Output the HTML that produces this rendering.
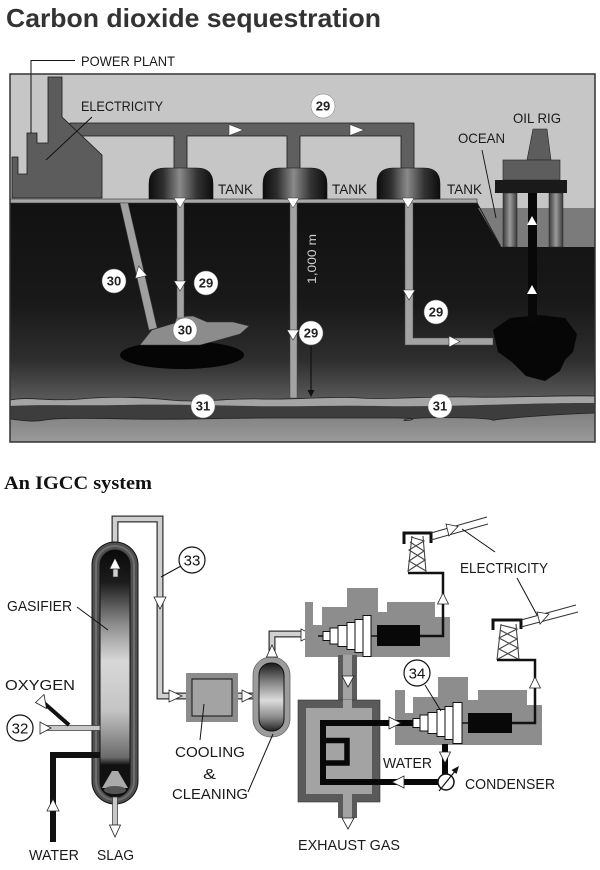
<!DOCTYPE html>
<html><head><meta charset="utf-8"><style>
html,body{margin:0;padding:0;background:#fff;}
svg{display:block;}
text{font-family:"Liberation Sans",sans-serif;}
</style></head><body>
<svg width="600" height="870" viewBox="0 0 600 870" xmlns="http://www.w3.org/2000/svg">
<defs>
<linearGradient id="ground" x1="0" y1="0" x2="0" y2="1">
<stop offset="0" stop-color="#111"/><stop offset="0.5" stop-color="#191919"/><stop offset="0.78" stop-color="#2e2e2e"/><stop offset="1" stop-color="#606060"/>
</linearGradient>
<linearGradient id="tankG" x1="0" y1="0" x2="1" y2="0">
<stop offset="0" stop-color="#0d0d0d"/><stop offset="0.22" stop-color="#2e2e2e"/><stop offset="0.48" stop-color="#8a8a8a"/><stop offset="0.75" stop-color="#333"/><stop offset="1" stop-color="#0d0d0d"/>
</linearGradient>
<linearGradient id="legG" x1="0" y1="0" x2="1" y2="0">
<stop offset="0" stop-color="#3a3a3a"/><stop offset="0.5" stop-color="#9a9a9a"/><stop offset="1" stop-color="#3a3a3a"/>
</linearGradient>
<linearGradient id="gasIn" x1="0" y1="0" x2="0" y2="1">
<stop offset="0" stop-color="#0a0a0a"/><stop offset="0.13" stop-color="#1c1c1c"/><stop offset="0.3" stop-color="#8c8c8c"/><stop offset="0.45" stop-color="#d8d8d8"/><stop offset="0.65" stop-color="#c4c4c4"/><stop offset="0.84" stop-color="#6a6a6a"/><stop offset="0.87" stop-color="#111"/><stop offset="1" stop-color="#111"/>
</linearGradient>
<linearGradient id="vesIn" x1="0" y1="0" x2="0" y2="1">
<stop offset="0" stop-color="#1a1a1a"/><stop offset="0.3" stop-color="#8a8a8a"/><stop offset="0.55" stop-color="#dcdcdc"/><stop offset="0.8" stop-color="#8a8a8a"/><stop offset="1" stop-color="#222"/>
</linearGradient>
<linearGradient id="bot" x1="0" y1="0" x2="0" y2="1">
<stop offset="0" stop-color="#808080"/><stop offset="1" stop-color="#9a9a9a"/>
</linearGradient>
</defs>

<!-- TITLE -->
<text x="6" y="27" font-weight="bold" font-size="26" fill="#333" textLength="375" lengthAdjust="spacingAndGlyphs">Carbon dioxide sequestration</text>

<!-- TOP BOX -->
<rect x="10" y="74" width="585" height="368" fill="#c6c6c6"/>
<!-- ground -->
<path d="M10,202 H477 L501,247 H595 V405 H10 Z" fill="url(#ground)"/>
<path d="M478,208 H595 V247 H501 Z" fill="#7b7b7b"/>
<line x1="476" y1="201" x2="501" y2="247" stroke="#222" stroke-width="1"/>
<rect x="10" y="199" width="467" height="4" fill="#a9a9a9" stroke="#333" stroke-width="0.6"/>

<!-- layer 31 -->
<path d="M10,400 C30,396 50,402 80,399 S140,397 170,400 S230,398 260,399 S330,396 360,398 S430,396 470,397 S560,395 595,396 V442 H10 Z" fill="#a4a4a4"/>
<path d="M10,400 C30,396 50,402 80,399 S140,397 170,400 S230,398 260,399 S330,396 360,398 S430,396 470,397 S560,395 595,396" fill="none" stroke="#222" stroke-width="0.8"/>
<path d="M10,406 C40,404 80,406 120,405 S200,405 250,406 S330,405 380,406 S480,405 520,404 S580,403 595,403 V442 H10 Z" fill="#3d3d3d"/>
<path d="M10,419 C25,421 35,422 45,420 S90,418 130,419 S220,418 270,418 S360,418 395,418 S402,422 404,420 S440,417 470,418 S490,421 495,420 S540,415 595,413 V442 H10 Z" fill="url(#bot)"/>
<path d="M10,419 C25,421 35,422 45,420 S90,418 130,419 S220,418 270,418 S360,418 395,418 S402,422 404,420 S440,417 470,418 S490,421 495,420 S540,415 595,413" fill="none" stroke="#222" stroke-width="0.8"/>

<!-- reservoir 1 -->
<ellipse cx="182" cy="355" rx="62" ry="14" fill="#050505"/>
<path d="M140,345 L152,330 L175,323 L177,317 L193,316 L207,322 L233,322 L249,326 L240,334 L215,341 L200,345 Z" fill="#8c8c8c" stroke="#333" stroke-width="0.5"/>

<!-- reservoir right -->
<path d="M493,330 L510,318 L540,315 L565,318 L577,334 L573,352 L565,360 L560,371 L545,381 L526,376 L512,362 L498,352 Z" fill="#060606"/>

<!-- underground pipes -->
<polygon points="120,203 128,203 157,328 149,330" fill="#a0a0a0" stroke="#444" stroke-width="0.5"/>
<rect x="177" y="203" width="7" height="115" fill="#a3a3a3" stroke="#444" stroke-width="0.5"/>
<rect x="290" y="203" width="7" height="195" fill="#a3a3a3" stroke="#444" stroke-width="0.5"/>
<path d="M405,203 V345 H493 V338 H413 V203 Z" fill="#a3a3a3" stroke="#444" stroke-width="0.5"/>

<!-- arrows in ground -->
<polygon points="138.6,266 147,275.5 135.2,278.3" fill="#fff" stroke="#333" stroke-width="0.6"/>
<polygon points="174,281 186,281 180,291" fill="#fff" stroke="#333" stroke-width="0.6"/>
<polygon points="287,330 299,330 293,340" fill="#fff" stroke="#333" stroke-width="0.6"/>
<polygon points="403,290 415,290 409,300" fill="#fff" stroke="#333" stroke-width="0.6"/>
<polygon points="449,336 449,347 460,341.5" fill="#fff" stroke="#333" stroke-width="0.6"/>

<!-- 1000 m -->
<text transform="translate(316,284) rotate(-90)" font-size="12" fill="#cfcfcf" textLength="50" lengthAdjust="spacingAndGlyphs">1,000 m</text>
<line x1="311" y1="346" x2="311" y2="391" stroke="#111" stroke-width="1.2"/>
<polygon points="307.5,390 314.5,390 311,397" fill="#111"/>

<!-- power plant pipes -->
<path d="M70,123 H414 V170 H401 V136 H300 V170 H287 V136 H187 V170 H174 V136 H70 Z" fill="#5f5f5f" stroke="#1a1a1a" stroke-width="0.8"/>
<polygon points="229,124.5 229,135.5 243,130" fill="#fff" stroke="#333" stroke-width="0.5"/>
<polygon points="350,124.5 350,135.5 364,130" fill="#fff" stroke="#333" stroke-width="0.5"/>

<!-- power plant -->
<polygon points="12,198 12,157 18,157 18,174 27,174 27,133 37,133 37,143 48,143 48,77 62,77 62,117 102,155 102,198" fill="#5c5c5c" stroke="#1a1a1a" stroke-width="0.8"/>
<polyline points="75,60.5 31,60.5 31,133" fill="none" stroke="#111" stroke-width="1"/>
<line x1="92" y1="117" x2="46" y2="160" stroke="#111" stroke-width="1"/>

<!-- tanks -->
<path d="M149,199 V184 Q149,168 165,168 H197 Q213,168 213,184 V199 Z" fill="url(#tankG)" stroke="#111" stroke-width="0.6"/>
<path d="M263,199 V184 Q263,168 279,168 H311 Q327,168 327,184 V199 Z" fill="url(#tankG)" stroke="#111" stroke-width="0.6"/>
<path d="M377,199 V184 Q377,168 393,168 H424 Q440,168 440,184 V199 Z" fill="url(#tankG)" stroke="#111" stroke-width="0.6"/>
<polygon points="174,198 186,198 180,208" fill="#fff" stroke="#333" stroke-width="0.5"/>
<polygon points="287,198 299,198 293,208" fill="#fff" stroke="#333" stroke-width="0.5"/>
<polygon points="402,198 414,198 408,208" fill="#fff" stroke="#333" stroke-width="0.5"/>

<!-- oil rig -->
<polygon points="533,129 547,129 551,160 527,160" fill="#5d5d5d" stroke="#222" stroke-width="0.6"/>
<rect x="503" y="160" width="57" height="20" fill="#5d5d5d" stroke="#222" stroke-width="0.6"/>
<rect x="503" y="193" width="14" height="54" fill="url(#legG)" stroke="#222" stroke-width="0.5"/>
<rect x="549" y="193" width="14" height="54" fill="url(#legG)" stroke="#222" stroke-width="0.5"/>
<rect x="528" y="193" width="9" height="128" fill="#080808"/>
<rect x="495" y="180" width="72" height="13" fill="#1a1a1a"/>
<polygon points="527,225 537,225 532,216" fill="#fff"/>
<polygon points="527,294 537,294 532,285" fill="#fff"/>
<line x1="482" y1="150" x2="496" y2="218" stroke="#111" stroke-width="0.9"/>

<rect x="10" y="74" width="585" height="368" fill="none" stroke="#333" stroke-width="1.5"/>

<!-- top labels -->
<g font-size="14" fill="#1a1a1a">
<text x="81" y="66" textLength="94" lengthAdjust="spacingAndGlyphs">POWER PLANT</text>
<text x="81" y="111" textLength="82" lengthAdjust="spacingAndGlyphs">ELECTRICITY</text>
<text x="218" y="194" textLength="35" lengthAdjust="spacingAndGlyphs">TANK</text>
<text x="332" y="194" textLength="35" lengthAdjust="spacingAndGlyphs">TANK</text>
<text x="447" y="194" textLength="35" lengthAdjust="spacingAndGlyphs">TANK</text>
<text x="458" y="143" textLength="47" lengthAdjust="spacingAndGlyphs">OCEAN</text>
<text x="513" y="123" textLength="48" lengthAdjust="spacingAndGlyphs">OIL RIG</text>
</g>

<!-- top circles -->
<g font-size="13" font-weight="bold" fill="#222" text-anchor="middle">
<circle cx="323" cy="106" r="12" fill="#fff" stroke="#777" stroke-width="0.5"/><text x="323" y="110.5">29</text>
<circle cx="114" cy="281" r="12" fill="#fff" stroke="#777" stroke-width="0.5"/><text x="114" y="285.5">30</text>
<circle cx="206" cy="283" r="12" fill="#fff" stroke="#777" stroke-width="0.5"/><text x="206" y="287.5">29</text>
<circle cx="185" cy="330" r="12" fill="#fff" stroke="#777" stroke-width="0.5"/><text x="185" y="334.5">30</text>
<circle cx="311" cy="333" r="12" fill="#fff" stroke="#777" stroke-width="0.5"/><text x="311" y="337.5">29</text>
<circle cx="436" cy="312" r="12" fill="#fff" stroke="#777" stroke-width="0.5"/><text x="436" y="316.5">29</text>
<circle cx="203" cy="406" r="12" fill="#fff" stroke="#777" stroke-width="0.5"/><text x="203" y="410.5">31</text>
<circle cx="440" cy="406" r="12" fill="#fff" stroke="#777" stroke-width="0.5"/><text x="440" y="410.5">31</text>
</g>

<!-- ===== IGCC ===== -->
<text x="4" y="489" font-family="Liberation Serif, serif" font-weight="bold" font-size="19" fill="#111" textLength="148" lengthAdjust="spacingAndGlyphs" style="font-family:'Liberation Serif',serif">An IGCC system</text>

<!-- pipe 33 -->
<path d="M115,574 V519 H160 V696 H188" fill="none" stroke="#333" stroke-width="7"/>
<path d="M115,574 V519 H160 V696 H188" fill="none" stroke="#d0d0d0" stroke-width="4.5"/>

<!-- gasifier -->
<rect x="92" y="542" width="46" height="262" rx="23" fill="#4f4f4f" stroke="#111" stroke-width="1"/>
<rect x="96" y="546" width="38" height="254" rx="19" fill="none" stroke="#6e6e6e" stroke-width="2"/>
<rect x="100" y="550" width="30" height="247" rx="15" fill="url(#gasIn)" stroke="#111" stroke-width="1"/>
<rect x="113" y="565" width="5" height="12" fill="#d0d0d0" stroke="#333" stroke-width="0.6"/>
<polygon points="109.5,569 120.5,569 115,558" fill="#fff" stroke="#222" stroke-width="0.7"/>
<polygon points="112,771 118,771 128,788 102,788" fill="#aaa"/>
<ellipse cx="115" cy="790" rx="11" ry="4" fill="#555"/>

<!-- slag -->
<rect x="112.5" y="797" width="5" height="28" fill="#c8c8c8" stroke="#333" stroke-width="0.7"/>
<polygon points="109.5,825 120.5,825 115,837" fill="#fff" stroke="#222" stroke-width="0.8"/>

<!-- oxygen 32 -->
<rect x="46" y="725.5" width="54" height="5" fill="#c8c8c8" stroke="#333" stroke-width="0.7"/>
<polygon points="40,722 40,734 51,728" fill="#fff" stroke="#222" stroke-width="0.8"/>
<line x1="44" y1="703" x2="69" y2="725" stroke="#111" stroke-width="4"/>
<polygon points="35.5,702.5 44,694.5 46.5,708.5" fill="#fff" stroke="#222" stroke-width="0.8"/>
<circle cx="20" cy="728" r="13" fill="#fff" stroke="#111" stroke-width="1.2"/>
<text x="20" y="733.5" font-size="15" text-anchor="middle" fill="#111">32</text>

<!-- water in -->
<path d="M53,842 V755 H100" fill="none" stroke="#111" stroke-width="6"/>
<polygon points="47,811 59,811 53,799" fill="#fff" stroke="#222" stroke-width="0.8"/>

<!-- 33 label -->
<line x1="161" y1="577" x2="181" y2="566" stroke="#111" stroke-width="1"/>
<circle cx="192" cy="560" r="13" fill="#fff" stroke="#111" stroke-width="1.2"/>
<text x="192" y="565.5" font-size="15" text-anchor="middle" fill="#111">33</text>
<polygon points="154,597 166,597 160,609" fill="#fff" stroke="#222" stroke-width="0.8"/>
<line x1="77" y1="607" x2="108" y2="630" stroke="#111" stroke-width="1"/>

<!-- cooling box -->
<rect x="186" y="673" width="52" height="49" fill="#8c8c8c"/>
<rect x="192" y="679" width="40" height="37" fill="#a3a3a3" stroke="#111" stroke-width="1"/>
<polygon points="169,690 169,702 182,696" fill="#fff" stroke="#222" stroke-width="0.8"/>
<path d="M238,696 H256" stroke="#333" stroke-width="7"/>
<path d="M238,696 H256" stroke="#d0d0d0" stroke-width="4.5"/>
<polygon points="242,690 242,702 254,696" fill="#fff" stroke="#222" stroke-width="0.8"/>
<line x1="204" y1="704" x2="200" y2="740" stroke="#111" stroke-width="1"/>

<!-- vessel -->
<path d="M272,664 V634 H322" fill="none" stroke="#333" stroke-width="7"/>
<path d="M272,664 V634 H322" fill="none" stroke="#d0d0d0" stroke-width="4.5"/>
<rect x="253" y="657" width="37" height="80" rx="18" fill="#9c9c9c" stroke="#666" stroke-width="0.8"/>
<rect x="259" y="663" width="25" height="68" rx="12" fill="url(#vesIn)" stroke="#111" stroke-width="1"/>
<polygon points="266.5,657 277.5,657 272,645" fill="#fff" stroke="#222" stroke-width="0.8"/>
<polygon points="301,629 301,641 313,635" fill="#fff" stroke="#222" stroke-width="0.8"/>
<line x1="248" y1="792" x2="273" y2="734" stroke="#111" stroke-width="1"/>

<!-- turbine 1 -->
<polygon points="305,602 313,602 313,625 322,625 322,607 347,607 347,588 378,588 378,612 387,612 387,602 435,602 435,617 450,617 450,657 305,657" fill="#8d8d8d"/>
<line x1="318" y1="636" x2="380" y2="636" stroke="#111" stroke-width="1.5"/>
<g fill="#fff" stroke="#111" stroke-width="1">
<rect x="323" y="631.5" width="7" height="9"/>
<rect x="330" y="628" width="8" height="16"/>
<rect x="338" y="625.5" width="9" height="21"/>
<rect x="347" y="622.5" width="8" height="27"/>
<rect x="355" y="619.5" width="8" height="33"/>
<rect x="363" y="615.5" width="8" height="41"/>
</g>
<rect x="377" y="625" width="43" height="21" fill="#080808"/>
<path d="M420,636 H443 V573 H408" fill="none" stroke="#111" stroke-width="2.5"/>
<polygon points="437.5,604 448.5,604 443,593" fill="#fff" stroke="#222" stroke-width="0.8"/>

<!-- tower 1 -->
<g stroke="#444" stroke-width="1.1" fill="none">
<line x1="408" y1="572" x2="412" y2="536"/><line x1="426" y1="572" x2="423" y2="536"/>
<polyline points="408,571 425,560 409,550 424,541 411,537"/>
<polyline points="426,571 409,561 424,551 410,542"/>
</g>
<path d="M404,544 V533 H431 V543" fill="none" stroke="#111" stroke-width="3"/>
<line x1="431" y1="533" x2="487" y2="517" stroke="#333" stroke-width="1"/>
<line x1="431" y1="540" x2="488" y2="524" stroke="#333" stroke-width="1"/>
<polygon points="458,526.5 446,524 449,536" fill="#fff" stroke="#222" stroke-width="0.8"/>

<!-- tower 2 -->
<g stroke="#444" stroke-width="1.1" fill="none">
<line x1="497" y1="660" x2="501" y2="624"/><line x1="519" y1="660" x2="516" y2="624"/>
<polyline points="498,659 518,648 499,638 517,629 501,625"/>
<polyline points="518,659 499,649 517,639 500,630"/>
</g>
<path d="M493,630 V620 H521 V629" fill="none" stroke="#111" stroke-width="3"/>
<line x1="521" y1="620" x2="576" y2="605" stroke="#333" stroke-width="1"/>
<line x1="521" y1="627" x2="578" y2="612" stroke="#333" stroke-width="1"/>
<polygon points="549,614 537,612 540,624" fill="#fff" stroke="#222" stroke-width="0.8"/>

<line x1="495" y1="552" x2="462" y2="529" stroke="#111" stroke-width="1"/>
<line x1="517" y1="578" x2="537" y2="615" stroke="#111" stroke-width="1"/>

<!-- HRSG -->
<rect x="338" y="655" width="19" height="47" fill="#5a5a5a"/>
<rect x="343" y="655" width="9" height="55" fill="#a3a3a3"/>
<rect x="298" y="700" width="82" height="102" fill="#5a5a5a" stroke="#333" stroke-width="0.6"/>
<rect x="306" y="708" width="66" height="86" fill="#a3a3a3"/>
<rect x="343" y="700" width="9" height="10" fill="#a3a3a3"/>
<rect x="338" y="800" width="19" height="18" fill="#5a5a5a"/>
<rect x="343" y="792" width="9" height="26" fill="#a3a3a3"/>
<polygon points="342,676 354,676 348,687" fill="#fff" stroke="#222" stroke-width="0.8"/>
<polygon points="342,818 354,818 348,829" fill="#fff" stroke="#222" stroke-width="0.8"/>

<!-- turbine 2 -->
<polygon points="395,690 405,690 405,713 413,713 413,697 438,697 438,677 468,677 468,700 478,700 478,690 527,690 527,705 542,705 542,745 395,745" fill="#8d8d8d"/>

<!-- serpentine -->
<path d="M413,723 H323 V782 H438" fill="none" stroke="#080808" stroke-width="6"/>
<path d="M323,740.5 H347 V763 H326" fill="none" stroke="#080808" stroke-width="5.5"/>
<polygon points="389,717 389,729 401,723" fill="#fff" stroke="#222" stroke-width="0.8"/>
<polygon points="404,776 404,788 392,782" fill="#fff" stroke="#222" stroke-width="0.8"/>

<line x1="410" y1="723" x2="470" y2="723" stroke="#111" stroke-width="1.5"/>
<g fill="#fff" stroke="#111" stroke-width="1">
<rect x="413" y="718.5" width="7" height="9"/>
<rect x="420" y="715" width="8" height="16"/>
<rect x="428" y="712.5" width="9" height="21"/>
<rect x="437" y="709.5" width="8" height="27"/>
<rect x="445" y="706.5" width="8" height="33"/>
<rect x="453" y="702.5" width="9" height="41"/>
</g>
<rect x="468" y="713" width="44" height="20" fill="#080808"/>
<path d="M512,723 H535 V660 H497" fill="none" stroke="#111" stroke-width="2.5"/>
<polygon points="529.5,688 540.5,688 535,677" fill="#fff" stroke="#222" stroke-width="0.8"/>

<!-- condenser -->
<path d="M445,744 V775" stroke="#080808" stroke-width="6"/>
<polygon points="439.5,752 450.5,752 445,763" fill="#fff" stroke="#222" stroke-width="0.8"/>
<circle cx="446" cy="782" r="8" fill="#fff" stroke="#111" stroke-width="1.5"/>
<line x1="439" y1="791" x2="456" y2="770" stroke="#111" stroke-width="1.2"/>
<polygon points="459,766 451.5,770 456.5,774" fill="#111"/>

<!-- 34 -->
<line x1="425" y1="685" x2="441" y2="711" stroke="#111" stroke-width="1"/>
<circle cx="417" cy="673" r="13" fill="#fff" stroke="#111" stroke-width="1.2"/>
<text x="417" y="678.5" font-size="15" text-anchor="middle" fill="#111">34</text>

<!-- bottom labels -->
<g font-size="15" fill="#1a1a1a">
<text x="7" y="611" textLength="65" lengthAdjust="spacingAndGlyphs">GASIFIER</text>
<text x="5" y="690" textLength="70" lengthAdjust="spacingAndGlyphs">OXYGEN</text>
<text x="29" y="860" textLength="50" lengthAdjust="spacingAndGlyphs">WATER</text>
<text x="97" y="860" textLength="37" lengthAdjust="spacingAndGlyphs">SLAG</text>
<text x="175" y="757" textLength="70" lengthAdjust="spacingAndGlyphs">COOLING</text>
<text x="203" y="779" textLength="13" lengthAdjust="spacingAndGlyphs">&amp;</text>
<text x="172" y="799" textLength="76" lengthAdjust="spacingAndGlyphs">CLEANING</text>
<text x="460" y="573" textLength="88" lengthAdjust="spacingAndGlyphs">ELECTRICITY</text>
<text x="383" y="768" textLength="49" lengthAdjust="spacingAndGlyphs">WATER</text>
<text x="465" y="789" textLength="90" lengthAdjust="spacingAndGlyphs">CONDENSER</text>
<text x="298" y="850" textLength="102" lengthAdjust="spacingAndGlyphs">EXHAUST GAS</text>
</g>
</svg>
</body></html>
